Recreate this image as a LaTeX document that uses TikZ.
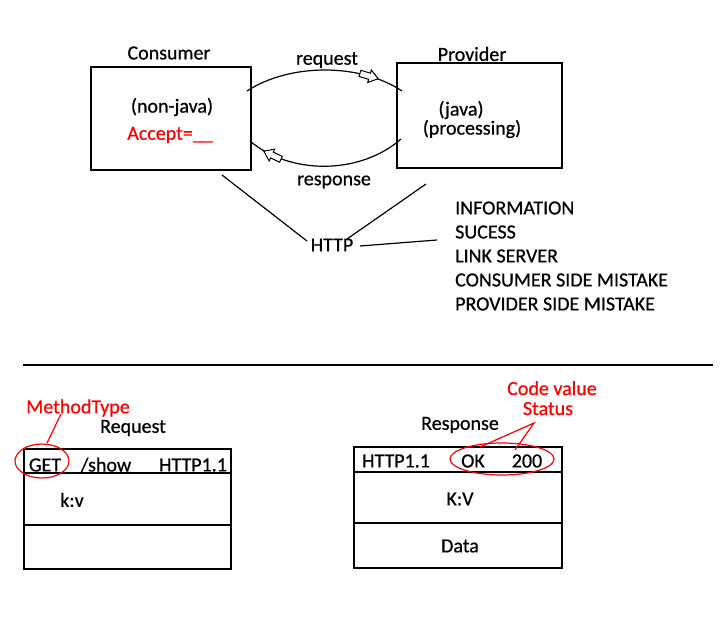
\documentclass[tikz,border=0pt]{standalone}
\usepackage{fontspec}
\setmainfont{Carlito}[FakeBold=0.6]
\usetikzlibrary{decorations.markings,calc}
\begin{document}
\begin{tikzpicture}[x=1pt,y=-1pt,
  every node/.style={font=\fontsize{20}{24}\selectfont, inner sep=0pt},
  redtxt/.style={text=red},
  box/.style={draw, line width=1.5pt},
  conn/.style={line width=1.2pt},
  redline/.style={draw=red, line width=1.2pt},
  hollowarrow/.style={postaction={decorate, decoration={markings,
     mark=at position #1 with {\draw[line width=1pt, fill=white] (-10,-3.2) -- (0,-3.2) -- (0,-6.5) -- (9,0) -- (0,6.5) -- (0,3.2) -- (-10,3.2) -- cycle;}}}}
]
\useasboundingbox (0,0) rectangle (721,625);
% top boxes
\draw[box] (91,67) rectangle (251,170);
\draw[box] (397,63) rectangle (562,168);
\node (consumer) at (169,53) {Consumer};
\node (provider) at (472,54) {Provider};
\node (nonjava) at (172,107) {(non-java)};
\node[redtxt] (accept) at (170,135) {Accept=\_\_};
\node (java) at (461,110) {(java)};
\node (processing) at (472,129) {(processing)};
\node (request) at (327,60) {request};
\node (response) at (334,182) {response};
% curves
\coordinate (rqs) at (247,91);
\coordinate (rqe) at (402,91);
\coordinate (rss) at (401,139);
\coordinate (rse) at (250,141);
\draw[conn, hollowarrow=0.78] (rqs) .. controls (290,63) and (360,63) .. (rqe);
\draw[conn, hollowarrow=0.84] (rss) .. controls (360,175) and (290,175) .. (rse);
% HTTP
\node (http) at (332,245) {HTTP};
\coordinate (c1) at (222,175);
\coordinate (c1e) at (307,241);
\coordinate (c2) at (426,184);
\coordinate (c2e) at (347,239);
\coordinate (h3s) at (360,246);
\coordinate (h3e) at (437,240);
\draw[conn] (c1) -- (c1e);
\draw[conn] (c2) -- (c2e);
\draw[conn] (h3s) -- (h3e);
\node[anchor=west] (l1) at (455,208) {INFORMATION};
\node[anchor=west] (l2) at (455,232) {SUCESS};
\node[anchor=west] (l3) at (455,256) {LINK SERVER};
\node[anchor=west] (l4) at (455,280) {CONSUMER SIDE MISTAKE};
\node[anchor=west] (l5) at (455,304) {PROVIDER SIDE MISTAKE};
% separator
\coordinate (sepl) at (23,365);
\coordinate (sepr) at (713,365);
\draw[conn] (sepl) -- (sepr);
% request table
\node[redtxt] (mtype) at (78,408) {MethodType};
\node (reqlbl) at (133,428) {Request};
\draw[box] (24,449) rectangle (231,569);
\draw[box] (24,473) -- (231,473);
\draw[box] (24,525) -- (231,525);
\node (get) at (45,465) {GET};
\node (show) at (106,465) {/show};
\node (http1) at (193,465) {HTTP1.1};
\node (kv) at (72,500) {k:v};
\draw[redline] (42,461) ellipse [x radius=27pt, y radius=17pt];
\coordinate (e1t) at (47,443);
\coordinate (m1) at (61,414);
\draw[redline] (e1t) -- (m1);
% response table
\node[redtxt, anchor=base, text depth=0pt] (codev) at (552,395) {Code value};
\node[redtxt, anchor=base, text height=13pt, text depth=0pt] (status) at (548,415) {Status};
\node (resplbl) at (460,425) {Response};
\draw[box] (354,447) rectangle (562,568);
\draw[box] (354,472) -- (562,472);
\draw[box] (354,523) -- (562,523);
\node (http2) at (396,461) {HTTP1.1};
\node (ok) at (473,461) {OK};
\node (c200) at (527,461) {200};
\node (KV) at (460,499) {K:V};
\node (data) at (460,546) {Data};
\draw[redline] (502,459) ellipse [x radius=52pt, y radius=16pt];
\coordinate (sv) at (534,423);
\coordinate (okp) at (480,447);
\coordinate (cp) at (515,450);
\draw[redline] (okp) -- (sv) -- (cp);
\end{tikzpicture}
\end{document}
